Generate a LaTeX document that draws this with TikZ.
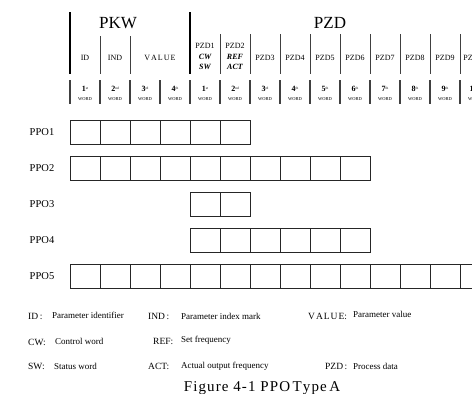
\documentclass[tikz,border=0pt]{standalone}
\usepackage{fontspec}
\setmainfont{Liberation Serif}
\newcommand{\lk}{\kern1.1pt}
\begin{document}
\begin{tikzpicture}[x=1pt,y=-1pt,
  cell/.style={draw=black!85, line width=0.9pt, minimum width=30pt, minimum height=24pt, inner sep=0pt, outer sep=0pt},
  rowlbl/.style={font=\fontsize{10.5}{12}\selectfont, inner sep=0pt},
  big/.style={font=\fontsize{17}{18}\selectfont, inner sep=0pt},
  hdr/.style={font=\fontsize{8}{9}\selectfont, inner sep=0pt},
  hdrb/.style={font=\fontsize{8}{9}\selectfont\bfseries\itshape, inner sep=0pt},
  num/.style={font=\fontsize{8}{9}\selectfont, inner sep=0pt},
  wordlbl/.style={font=\fontsize{4.5}{5}\selectfont, inner sep=0pt},
  thick sep/.style={line width=2pt, black},
  thin sep/.style={line width=0.8pt, black!75},
  word sep/.style={line width=1.1pt, black!75},
  lkey/.style={font=\fontsize{9.5}{10}\selectfont, anchor=west, inner sep=0pt},
  ldesc/.style={font=\fontsize{9}{10}\selectfont, anchor=west, inner sep=0pt},
  captext/.style={font=\fontsize{15}{16}\selectfont, inner sep=0pt}
]
\useasboundingbox (0,0) rectangle (472,394);
\clip (0,0) rectangle (472,394);

% header group titles
\node[big] (pkw) at (118,23) {PKW};
\node[big] (pzd) at (330,23) {PZD};

% separators
\draw[thick sep] (70,12) -- (70,74);
\draw[thick sep] (190,12) -- (190,74);
\foreach \x in {100,130} \draw[thin sep] (\x,36) -- (\x,74);
\foreach \x in {220,250,...,460} \draw[thin sep] (\x,34) -- (\x,74);

% header labels
\node[hdr] (hid) at (85,58) {ID};
\node[hdr] (hind) at (115,58) {IND};
\node[hdr] (hval) at (160,58) {V\kern1pt A\kern1pt L\kern1pt U\kern1pt E};
\node[hdr] (hz1) at (205,46) {PZD1};
\node[hdrb] (hcw) at (205,57) {CW};
\node[hdrb] (hsw) at (205,67) {SW};
\node[hdr] (hz2) at (235,46) {PZD2};
\node[hdrb] (href) at (235,57) {REF};
\node[hdrb] (hact) at (235,67) {ACT};
\foreach \i in {3,...,10} {
  \pgfmathtruncatemacro{\xx}{205+30*(\i-1)}
  \node[hdr] (hz\i) at (\xx,58) {PZD\i};
}

% word row
\foreach \x in {70,100,...,460} \draw[word sep] (\x,80) -- (\x,104);
\foreach \n/\s [count=\k] in {1/st,2/nd,3/rd,4/th} {
  \pgfmathtruncatemacro{\xx}{55+30*\k}
  \node[num] (wk\k) at (\xx,89) {\textbf{\n}\raisebox{2.5pt}{\fontsize{3.5}{4}\selectfont\s}};
  \node[wordlbl] (wkw\k) at (\xx,99) {WORD};
}
\foreach \n/\s [count=\k] in {1/st,2/nd,3/rd,4/th,5/th,6/th,7/th,8/th,9/th,10/th} {
  \pgfmathtruncatemacro{\xx}{175+30*\k}
  \node[num] (wz\k) at (\xx,89) {\textbf{\n}\raisebox{2.5pt}{\fontsize{3.5}{4}\selectfont\s}};
  \node[wordlbl] (wzw\k) at (\xx,99) {WORD};
}

% PPO rows
\foreach \r/\y/\a/\b in {1/132/1/6, 2/168/1/10, 3/204/5/6, 4/240/5/10, 5/276/1/15} {
  \node[rowlbl] (ppo\r) at (42,\y) {PPO\r};
  \foreach \c in {\a,...,\b} {
    \pgfmathtruncatemacro{\xx}{55+30*\c}
    \node[cell] (p\r c\c) at (\xx,\y) {};
  }
}

% legend
\node[lkey] (kid) at (28,316) {ID\,:};
\node[ldesc] (did) at (52,315) {Parameter identifier};
\node[lkey] (kind) at (148,316) {IND\,:};
\node[ldesc] (dind) at (181,316) {Parameter index mark};
\node[lkey] (kval) at (308,316) {V\kern1pt A\kern1pt L\kern1pt U\kern1pt E:};
\node[ldesc] (dval) at (353,314) {Parameter value};
\node[lkey] (kcw) at (28,342) {CW:};
\node[ldesc] (dcw) at (55,341) {Control word};
\node[lkey] (kref) at (153,341) {REF:};
\node[ldesc] (dref) at (181,340) {Set frequency};
\node[lkey] (ksw) at (28,366) {SW:};
\node[ldesc] (dsw) at (54,366) {Status word};
\node[lkey] (kact) at (148,366) {ACT:};
\node[ldesc] (dact) at (181,366) {Actual output frequency};
\node[lkey] (kpzd) at (325,366) {PZD\,:};
\node[ldesc] (dpzd) at (353,366) {Process data};
\node[captext] (caption) at (262,388) {F\lk i\lk g\lk u\lk r\lk e\lk{} 4\lk -\lk 1\lk{} P\lk P\lk O\,T\lk y\lk p\lk e\,A};
\end{tikzpicture}
\end{document}
